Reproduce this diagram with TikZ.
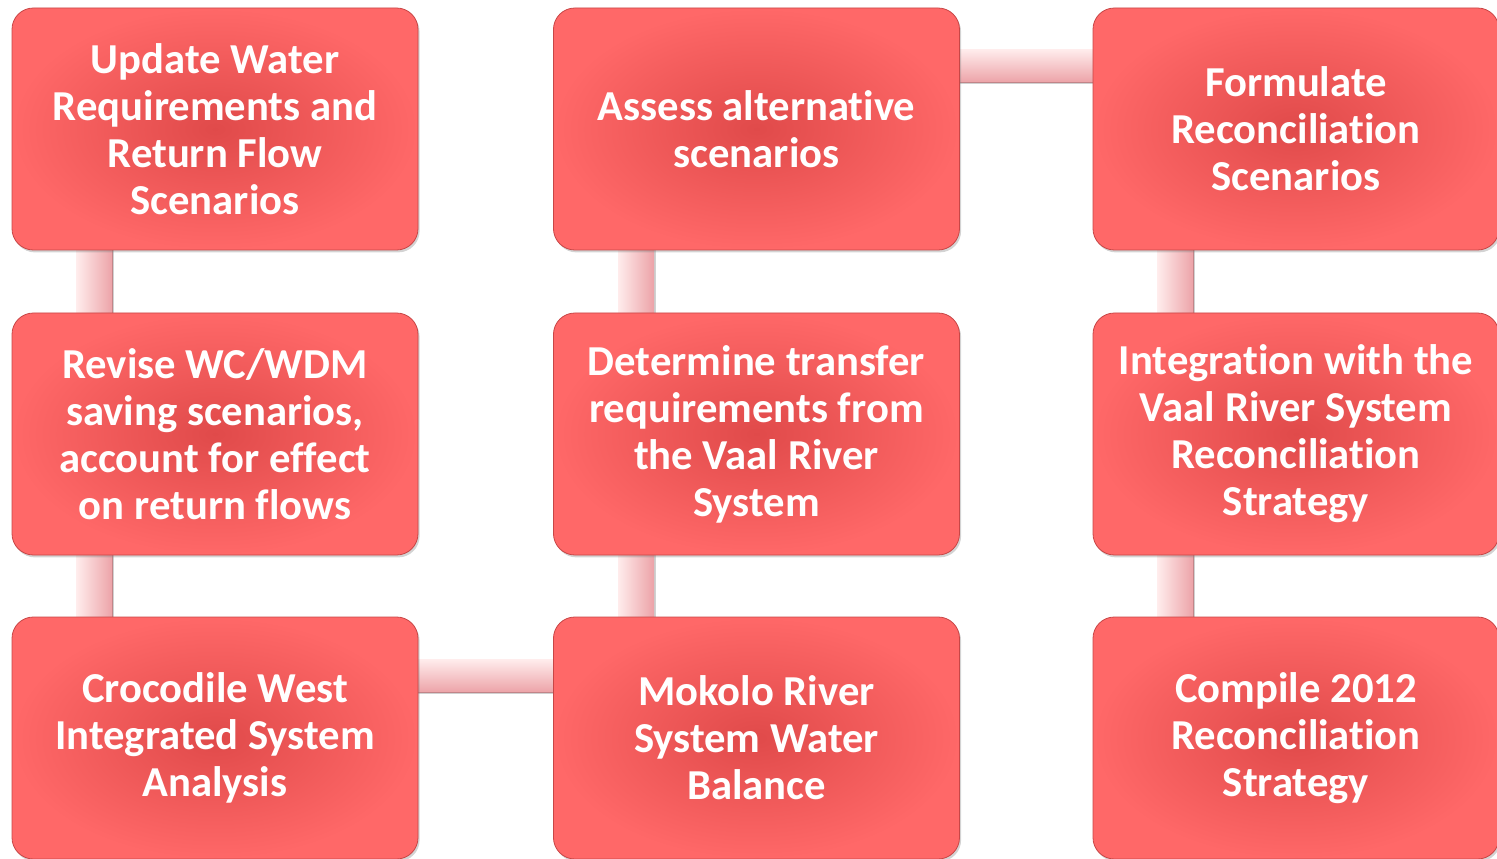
\documentclass[tikz,border=0pt]{standalone}
\usepackage{fontspec}
\setmainfont{Carlito}[RawFeature=-liga]
\usetikzlibrary{shadows,calc}
\pgfdeclarelayer{background}
\pgfsetlayers{background,main}
\definecolor{boxin}{RGB}{224,74,74}
\definecolor{boxout}{RGB}{255,104,104}
\definecolor{boxline}{RGB}{200,70,70}
\definecolor{barlight}{RGB}{255,236,236}
\definecolor{bardark}{RGB}{236,162,167}
\tikzset{
  stepbox/.style={rectangle, rounded corners=16pt, minimum width=304.5pt, minimum height=181.5pt,
    inner sep=0pt, align=center, text=white, font=\bfseries\fontsize{32}{35.2}\selectfont,
    inner color=boxin, outer color=boxout, draw=boxline, line width=0.6pt,
    drop shadow={shadow xshift=1.2pt, shadow yshift=-1.8pt, opacity=0.35}},
  vbar/.style={left color=barlight, right color=bardark, draw=none},
  hbar/.style={top color=barlight, bottom color=bardark, draw=none},
  barshade/.style={draw=black, opacity=0.18, line width=1.5pt}
}
\begin{document}
\begin{tikzpicture}[x=0.75pt,y=-0.75pt]
\useasboundingbox (0,0) rectangle (1497,859);
\path
  (215,129) node[stepbox] (a1) {Update Water\\Requirements and\\Return Flow\\Scenarios}
  (215,434) node[stepbox] (a2) {Revise WC/WDM\\saving scenarios,\\account for effect\\on return flows}
  (215,738) node[stepbox] (a3) {Crocodile West\\Integrated System\\Analysis}
  (756.5,129) node[stepbox] (b1) {Assess alternative\\scenarios}
  (756.5,434) node[stepbox] (b2) {Determine transfer\\requirements from\\the Vaal River\\System}
  (756.5,738) node[stepbox] (b3) {Mokolo River\\System Water\\Balance}
  (1296,129) node[stepbox] (c1) {Formulate\\Reconciliation\\Scenarios}
  (1296,434) node[stepbox] (c2) {Integration with the\\Vaal River System\\Reconciliation\\Strategy}
  (1296,738) node[stepbox] (c3) {Compile 2012\\Reconciliation\\Strategy};
\begin{pgfonlayer}{background}
  % vertical connectors
  \foreach \u/\l in {a1/a2,a2/a3,b1/b2,b2/b3,c1/c2,c2/c3}{
    \shade[vbar] ($(\u.south west)+(65,-10)$) rectangle ($(\l.north west)+(101,10)$);
    \draw[barshade] ($(\u.south west)+(101.5,-10)$) -- ($(\l.north west)+(101.5,10)$);
  }
  % horizontal connectors
  \shade[hbar] ($(b1.north east)+(-10,42)$) rectangle ($(c1.north west)+(10,75)$);
  \draw[barshade] ($(b1.north east)+(-10,75.5)$) -- ($(c1.north west)+(10,75.5)$);
  \shade[hbar] ($(a3.north east)+(-10,43)$) rectangle ($(b3.north west)+(10,76)$);
  \draw[barshade] ($(a3.north east)+(-10,76.5)$) -- ($(b3.north west)+(10,76.5)$);
\end{pgfonlayer}
\end{tikzpicture}
\end{document}
